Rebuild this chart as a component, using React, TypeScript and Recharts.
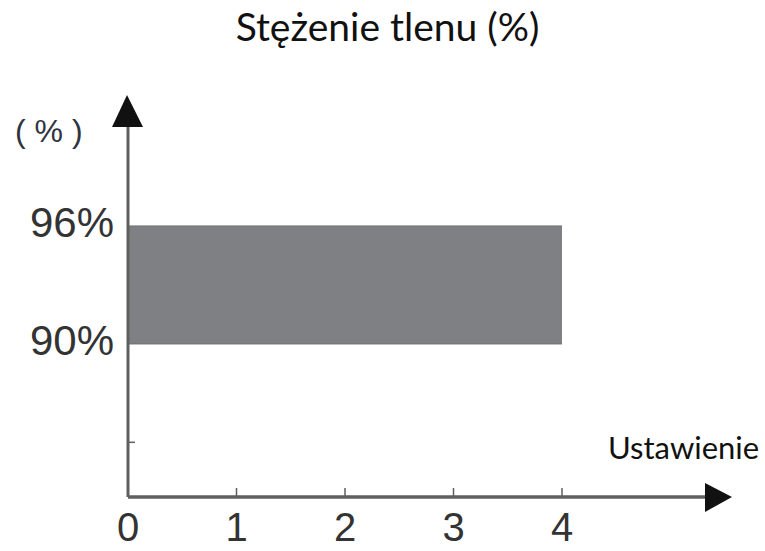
import { ComposedChart, Area, XAxis, YAxis } from "recharts";

// Ustawienie (setting) on X, oxygen concentration band on Y
const settings = [0, 4];
const lowPct = [90, 90];
const highPct = [96, 96];

const xTicks = [0, 1, 2, 3, 4];
const yTicks = [85, 90, 96];
const yTickLabels = ["", "90%", "96%"];

const xDomain = [0, 5.41];
const yDomain = [82.22, 101.64];

const data = settings.map((s, i) => ({ x: s, range: [lowPct[i], highPct[i]] }));

const AXIS = "#5f5f5f";
const TEXT = "#333";

const XTick = (props: any) => {
  const { x, y, payload } = props;
  return (
    <g>
      {payload.value !== 0 && (
        <line x1={x} y1={y} x2={x} y2={y - 9} stroke={AXIS} strokeWidth={1.5} />
      )}
      <text
        x={x}
        y={y + 44}
        textAnchor="middle"
        fill={TEXT}
        fontSize={40}
        fontFamily="Liberation Sans, Arial, sans-serif"
      >
        {payload.value}
      </text>
    </g>
  );
};

const YTick = (props: any) => {
  const { x, y, payload } = props;
  const label = yTickLabels[yTicks.indexOf(payload.value)];
  if (!label) {
    return <line x1={x} y1={y} x2={x + 7} y2={y} stroke={AXIS} strokeWidth={1.5} />;
  }
  return (
    <text
      x={x - 14}
      y={y + 11}
      textAnchor="end"
      fill={TEXT}
      fontSize={42}
      fontFamily="Liberation Sans, Arial, sans-serif"
    >
      {label}
    </text>
  );
};

const XArrow = (props: any) => {
  const { x, y, width } = props.viewBox;
  const ex = x + width;
  return <polygon points={`${ex - 10},${y - 14} ${ex + 17},${y} ${ex - 10},${y + 15}`} fill="#111" />;
};

const YArrow = (props: any) => {
  const { x, y, width } = props.viewBox;
  const ax = x + width;
  return (
    <g>
      <polygon points={`${ax - 16},${y + 12} ${ax - 1},${y - 20} ${ax + 15},${y + 12}`} fill="#111" />
      <text
        x={15}
        y={y + 27}
        fill="#2f3540"
        fontSize={32}
        fontFamily="Liberation Sans, Arial, sans-serif"
      >
        ( % )
      </text>
    </g>
  );
};

export default function App() {
  return (
    <div style={{ position: "absolute", left: 0, top: 0, width: 765, height: 551, background: "#fff" }}>
      <div
        style={{
          position: "absolute",
          left: 0,
          width: 775,
          top: 3,
          textAlign: "center",
          fontFamily: "Lato, sans-serif",
          fontSize: 39,
          color: "#111",
        }}
      >
        Stężenie tlenu (%)
      </div>
      <div
        style={{
          position: "absolute",
          left: 608,
          top: 428,
          fontFamily: "Lato, sans-serif",
          fontSize: 31,
          color: "#111",
        }}
      >
        Ustawienie
      </div>
      <ComposedChart
        width={765}
        height={551}
        data={data}
        margin={{ top: 115, right: 50, bottom: 0, left: 0 }}
      >
        <XAxis
          type="number"
          dataKey="x"
          domain={xDomain}
          ticks={xTicks}
          allowDataOverflow
          height={54}
          tickSize={0}
          tickMargin={0}
          tickLine={false}
          axisLine={{ stroke: AXIS, strokeWidth: 3.5 }}
          tick={<XTick />}
          label={{ content: <XArrow /> }}
        />
        <YAxis
          type="number"
          domain={yDomain}
          ticks={yTicks}
          allowDataOverflow
          width={128}
          tickSize={0}
          tickMargin={0}
          tickLine={false}
          axisLine={{ stroke: AXIS, strokeWidth: 3 }}
          tick={<YTick />}
          label={{ content: <YArrow /> }}
        />
        <Area
          type="linear"
          dataKey="range"
          fill="#7f8083"
          fillOpacity={1}
          stroke="#6f7073"
          strokeWidth={1}
          isAnimationActive={false}
          dot={false}
          activeDot={false}
        />
      </ComposedChart>
    </div>
  );
}
